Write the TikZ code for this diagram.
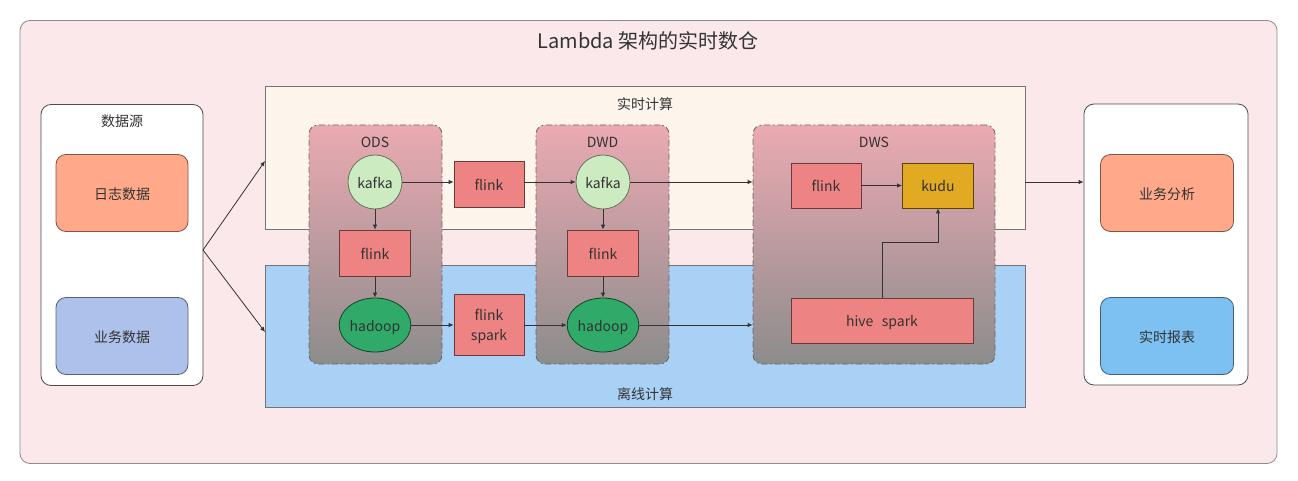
\documentclass[tikz,border=0pt]{standalone}
\usepackage{fontspec}
\setmainfont{Noto Sans CJK SC}
\usetikzlibrary{arrows.meta,shapes.geometric}
\definecolor{outerfill}{HTML}{FAE8EA}
\definecolor{rtfill}{HTML}{FDF5EB}
\definecolor{offfill}{HTML}{A9D0F5}
\definecolor{salmon}{HTML}{FFA98A}
\definecolor{lavblue}{HTML}{AEC1EA}
\definecolor{skyblue}{HTML}{7DC1F2}
\definecolor{flinkc}{HTML}{EE8383}
\definecolor{kafkac}{HTML}{CDEBC0}
\definecolor{hadoopc}{HTML}{2FAA68}
\definecolor{kuduc}{HTML}{E2AA22}
\definecolor{layertop}{HTML}{EBAAB2}
\definecolor{layerbot}{HTML}{8C8C8C}
\definecolor{txt}{HTML}{333333}
\tikzset{
  x=1pt,y=-1pt,
  every node/.style={text=txt,font=\fontsize{14}{16}\selectfont,inner sep=0pt,text height=14pt,text depth=1.4pt},
  outerbox/.style={draw=black!45,fill=outerfill,rounded corners=10pt,line width=0.8pt},
  whitebox/.style={draw=black!70,fill=white,rounded corners=10pt,line width=0.8pt},
  srcbox/.style={rounded corners=10pt,line width=0.8pt,minimum width=132pt,minimum height=77pt},
  band/.style={draw=black!55,line width=0.8pt,minimum width=760pt},
  layer/.style={draw=black!60,dash pattern=on 6pt off 3pt on 1.5pt off 3pt,line width=0.8pt,rounded corners=9pt,top color=layertop,bottom color=layerbot},
  flinkbox/.style={draw=black!55!flinkc,fill=flinkc,line width=0.8pt},
  kafkanode/.style={circle,draw=black!50!kafkac,fill=kafkac,line width=0.8pt,minimum size=54pt},
  hadoopnode/.style={ellipse,draw=black!60!hadoopc,fill=hadoopc,line width=0.8pt,minimum width=63pt,minimum height=54pt},
  arr/.style={draw=black!80,line width=0.8pt,-{Latex[length=5pt,width=4.5pt]}},
}
\begin{document}
\begin{tikzpicture}
\useasboundingbox (0,0) rectangle (1298,481);
% outer frame
\node[outerbox,minimum width=1257pt,minimum height=443pt] (outer) at (648.5,242) {};
\node[font=\fontsize{20}{24}\selectfont,text height=20pt,text depth=2pt] (title) at (648,40) {Lambda 架构的实时数仓};
% data source
\node[whitebox,minimum width=162pt,minimum height=281pt] (src) at (122,245) {};
\node (srct) at (122,120) {数据源};
\node[srcbox,fill=salmon,draw=black!50!salmon] (log) at (122,193) {日志数据};
\node[srcbox,fill=lavblue,draw=black!50!lavblue] (biz) at (122,336) {业务数据};
% bands
\node[band,fill=rtfill,minimum height=143pt] (rt) at (645,157.5) {};
\node[band,fill=offfill,minimum height=142pt] (off) at (645,336) {};
\node (rtl) at (645,103) {实时计算};
\node (offl) at (645,393) {离线计算};
% output
\node[whitebox,minimum width=164pt,minimum height=281pt] (out) at (1166,244.5) {};
\node[srcbox,minimum width=133pt,fill=salmon,draw=black!50!salmon] (ana) at (1167,193) {业务分析};
\node[srcbox,minimum width=133pt,fill=skyblue,draw=black!50!skyblue] (rep) at (1167,336) {实时报表};
% layers
\node[layer,minimum width=133pt,minimum height=239pt] (ods) at (375.5,244.5) {};
\node[layer,minimum width=133pt,minimum height=239pt] (dwd) at (602.5,244.5) {};
\node[layer,minimum width=242pt,minimum height=239pt] (dws) at (874,244.5) {};
\node (odsl) at (375,141) {ODS};
\node (dwdl) at (602.5,141) {DWD};
\node (dwsl) at (874,141) {DWS};
% ODS
\node[kafkanode] (k1) at (375,182) {kafka};
\node[flinkbox,minimum width=71pt,minimum height=46pt] (f1) at (375,253) {flink};
\node[hadoopnode] (h1) at (375,325) {hadoop};
% middle
\node[flinkbox,minimum width=70pt,minimum height=46pt] (fa) at (489,184) {flink};
\node[flinkbox,minimum width=70pt,minimum height=61pt,align=center,font=\fontsize{14}{20}\selectfont,text height=34pt,text depth=1.4pt] (fs) at (489,324.5) {flink\\spark};
% DWD
\node[kafkanode] (k2) at (603,182) {kafka};
\node[flinkbox,minimum width=71pt,minimum height=46pt] (f2) at (603,253) {flink};
\node[hadoopnode] (h2) at (603,325) {hadoop};
% DWS
\node[flinkbox,minimum width=70pt,minimum height=45pt] (f3) at (826,185.5) {flink};
\node[draw=black!60!kuduc,fill=kuduc,line width=0.8pt,minimum width=71pt,minimum height=45pt] (kudu) at (938,185.5) {kudu};
\node[flinkbox,minimum width=182pt,minimum height=45pt] (hs) at (882,320.5) {hive\hspace{0.6em}spark};
% connectors
\coordinate (srcout) at (203,250);
\coordinate (rtin) at (265,161);
\coordinate (offin) at (265,332);
\coordinate (rtout) at (1025,182);
\draw[arr] (srcout) -- (rtin);
\draw[arr] (srcout) -- (offin);
\draw[arr] (k1) -- (f1);
\draw[arr] (f1) -- (h1);
\draw[arr] (k2) -- (f2);
\draw[arr] (f2) -- (h2);
\draw[arr] (k1.east) -- (k1.east -| fa.west);
\draw[arr] (fa.east |- k2) -- (k2.west);
\draw[arr] (k2.east) -- (k2.east -| dws.west);
\draw[arr] (h1.east) -- (h1.east -| fs.west);
\draw[arr] (fs.east |- h2) -- (h2.west);
\draw[arr] (h2.east) -- (h2.east -| dws.west);
\draw[arr] (f3) -- (kudu);
\draw[arr] (hs.north) -- ++(0,-55) -| (kudu.south);
\draw[arr] (rtout) -- (rtout -| out.west);
\end{tikzpicture}
\end{document}
